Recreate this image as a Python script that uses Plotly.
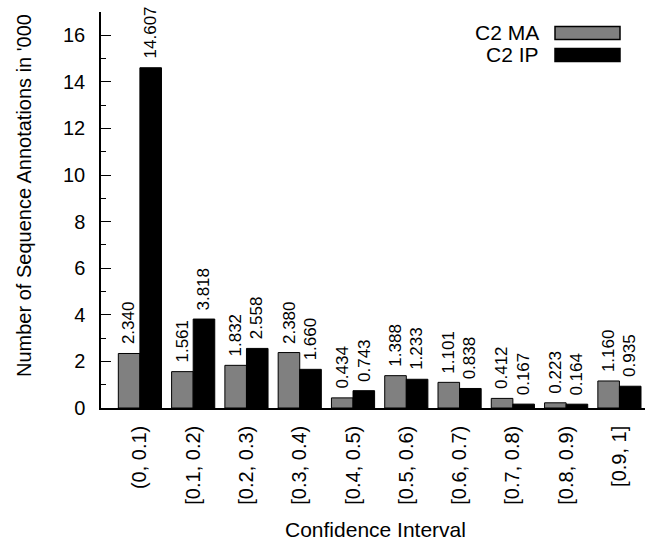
import plotly.graph_objects as go

categories = ["(0, 0.1)", "[0.1, 0.2)", "[0.2, 0.3)", "[0.3, 0.4)", "[0.4, 0.5)",
              "[0.5, 0.6)", "[0.6, 0.7)", "[0.7, 0.8)", "[0.8, 0.9)", "[0.9, 1]"]
c2_ma = [2.340, 1.561, 1.832, 2.380, 0.434, 1.388, 1.101, 0.412, 0.223, 1.160]
c2_ip = [14.607, 3.818, 2.558, 1.660, 0.743, 1.233, 0.838, 0.167, 0.164, 0.935]
series_names = ["C2 MA", "C2 IP"]
y_ticks = [0, 2, 4, 6, 8, 10, 12, 14, 16]

FONT = "Liberation Sans, Arial, sans-serif"
W, H = 645, 542
ML, MR, MT, MB = 101, 0, 12, 134
PW, PH = W - ML - MR, H - MT - MB
X_RANGE = [-0.73, 9.48]
BARGAP = 0.19


def px_x(x):
    return (x - ML) / PW


def px_y(y):
    return (H - MB - y) / PH


fig = go.Figure()
series = [(series_names[0], c2_ma, "#808080"), (series_names[1], c2_ip, "#000000")]
for name, vals, col in series:
    fig.add_trace(go.Bar(
        x=categories, y=vals, name=name,
        marker=dict(color=col, line=dict(color="#000000", width=1)),
        showlegend=False, hoverinfo="skip",
    ))

# value labels above each bar (rotated), via annotations in data coordinates
unit_px = PW / (X_RANGE[1] - X_RANGE[0])
half_bar_px = (1 - BARGAP) / 4 * unit_px
for j, (name, vals, col) in enumerate(series):
    shift = -half_bar_px if j == 0 else half_bar_px
    for cat, v in zip(categories, vals):
        fig.add_annotation(x=cat, y=v, text=f"{v:.3f}", textangle=-90,
                           showarrow=False, xanchor="center", yanchor="bottom",
                           xshift=shift, yshift=8, borderpad=0,
                           font=dict(size=17, color="#000000"))

fig.update_layout(
    width=W, height=H,
    margin=dict(l=ML, r=MR, t=MT, b=MB, autoexpand=False),
    paper_bgcolor="white", plot_bgcolor="white",
    barmode="group", bargap=BARGAP, bargroupgap=0,
    font=dict(family=FONT, size=19, color="#000000"),
    xaxis=dict(
        range=X_RANGE, showgrid=False, zeroline=False,
        showline=True, linecolor="#000000", linewidth=1.5,
        ticks="", tickangle=-90, tickfont=dict(size=20),
        ticklabelstandoff=8, automargin=False,
    ),
    yaxis=dict(
        range=[0, 17], showgrid=False, zeroline=False,
        showline=True, linecolor="#000000", linewidth=1.5,
        tickvals=y_ticks, ticks="inside", ticklen=10, tickwidth=1.2,
        tickcolor="#000000", tickfont=dict(size=20),
        ticklabelstandoff=10, automargin=False,
        minor=dict(dtick=1, ticks="inside", ticklen=5, tickwidth=1.2, tickcolor="#000000"),
    ),
)

# axis titles
fig.add_annotation(text="Number of Sequence Annotations in '000", xref="paper", yref="paper",
                   x=px_x(24), y=px_y(196), textangle=-90, showarrow=False,
                   xanchor="center", yanchor="middle", font=dict(size=20))
fig.add_annotation(text="Confidence Interval", xref="paper", yref="paper",
                   x=px_x(375), y=px_y(529), showarrow=False,
                   xanchor="center", yanchor="middle", font=dict(size=21))

# legend (text left of swatch, gnuplot style)
legend_rows = [(series_names[0], "#808080", 33), (series_names[1], "#000000", 55)]
for name, col, yc in legend_rows:
    fig.add_annotation(text=name, xref="paper", yref="paper", x=px_x(541), y=px_y(yc),
                       showarrow=False, xanchor="right", yanchor="middle",
                       font=dict(size=21))
    fig.add_shape(type="rect", xref="paper", yref="paper",
                  x0=px_x(555), x1=px_x(620), y0=px_y(yc - 6.5), y1=px_y(yc + 6.5),
                  fillcolor=col, line=dict(color="#000000", width=1.5))

fig.write_html("out.html", config={"displayModeBar": False},
               post_script="document.body.style.margin='0';document.body.style.overflow='hidden';")
